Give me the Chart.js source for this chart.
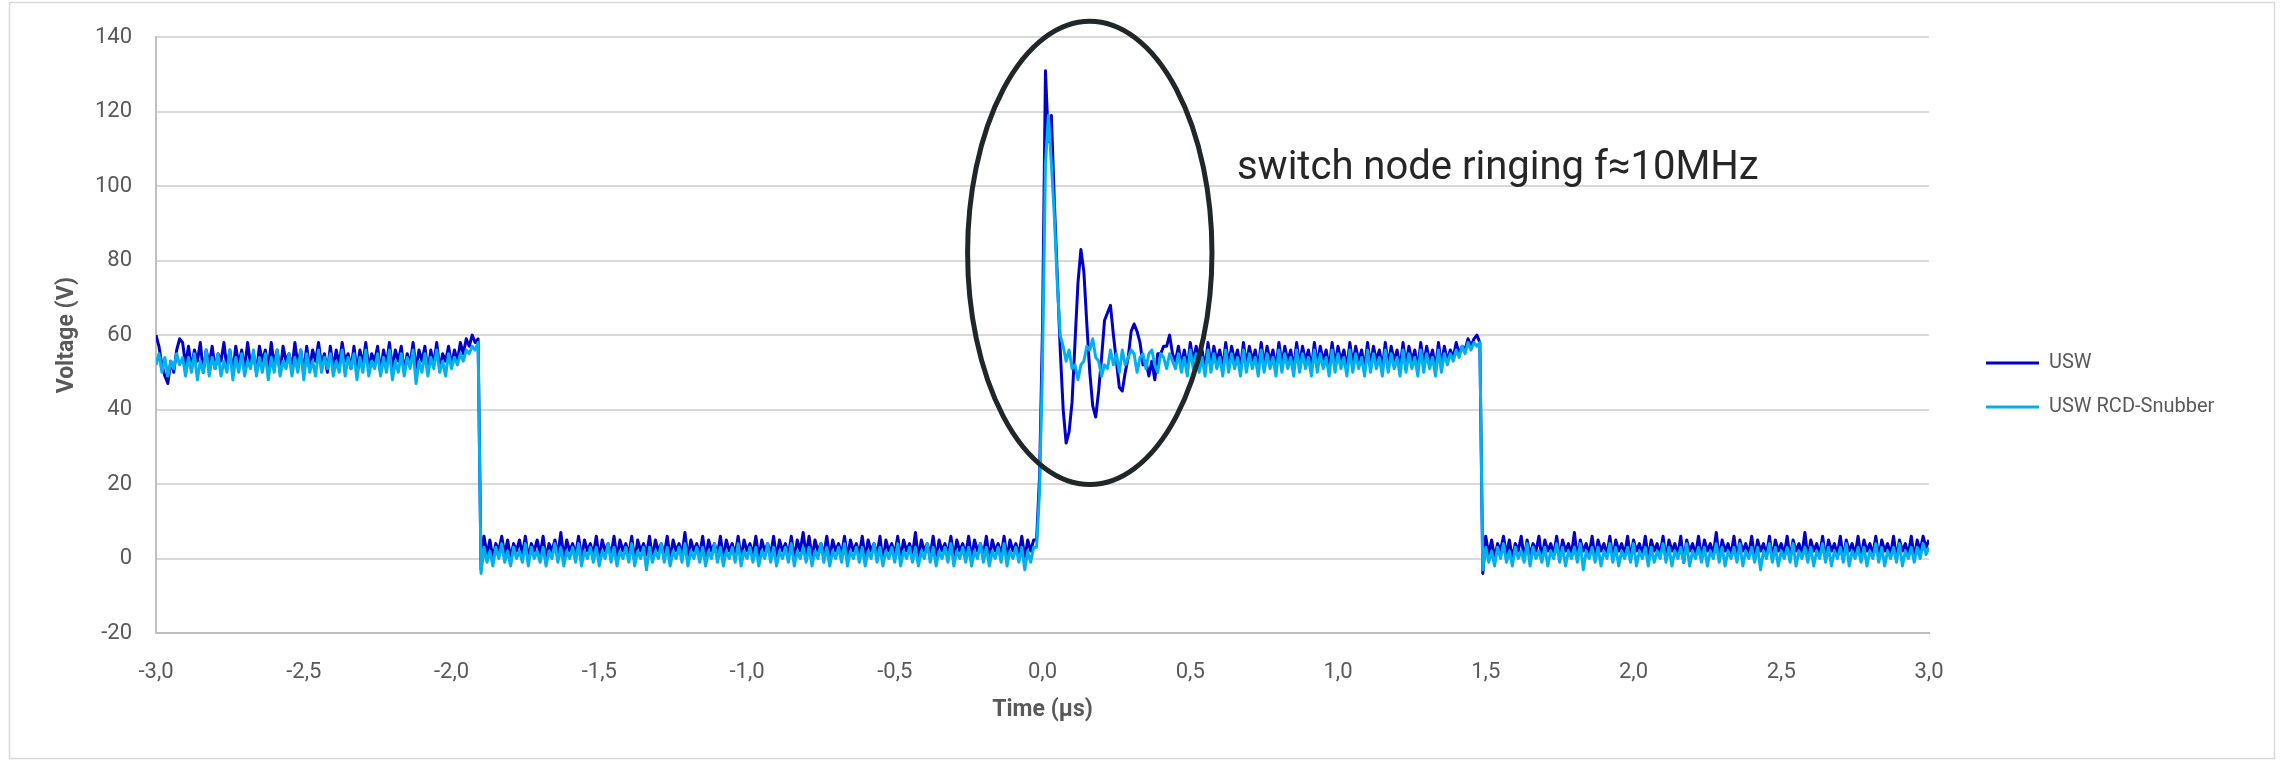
<!DOCTYPE html>
<html>
<head>
<meta charset="utf-8">
<title>Switch node voltage USW</title>
<script src="https://cdn.jsdelivr.net/npm/chart.js@4.4.1/dist/chart.umd.min.js"></script>
<style>
  html, body { margin: 0; padding: 0; background: #fff; }
  #chart { display: block; }
</style>
</head>
<body>
<canvas id="chart" width="2283" height="761"></canvas>
<script>
// scope capture from -3 us to +3 us, one reading every 10 ns
const timeStartUs = -3.0;
const sampleStepUs = 0.01;

const seriesNames = ['USW', 'USW RCD-Snubber'];
const xTickLabels = ['-3,0', '-2,5', '-2,0', '-1,5', '-1,0', '-0,5', '0,0', '0,5', '1,0', '1,5', '2,0', '2,5', '3,0'];

// USW (volts)
const uswHigh1 = [
  60,57,52,49,47,53,50,56,59,58,
  52,57,51,56,53,58,50,56,52,57,51,55,53,58,51,56,50,57,52,56,
  51,58,52,55,50,57,53,56,51,58,52,56,50,57,53,55,51,58,52,56,
  50,57,51,56,53,58,52,55,50,57,51,56,52,58,53,55,51,57,50,56,
  52,58,51,55,53,57,50,56,52,58,51,56,53,57,50,55,52,58,51,56,
  53,57,50,56,52,58,51,55,53,57,
  52,56,53,58,55,59,57,60,58,59
];
const uswLow1 = [
  -3,6,1,5,0,4,2,6,1,5,0,4,2,5,1,6,0,4,2,5,
  1,6,0,4,2,5,1,7,0,5,2,4,1,6,0,5,2,4,1,6,
  0,5,2,4,1,6,0,5,2,4,1,6,-1,5,2,4,1,6,0,5,
  2,4,1,6,0,5,2,4,1,7,0,5,2,4,1,6,0,5,2,4,
  1,6,0,5,2,4,1,6,0,5,2,4,1,6,0,5,2,4,1,6,
  0,5,2,4,1,6,0,5,2,7,1,6,0,5,2,4,1,6,0,5,
  2,4,1,6,0,5,2,4,1,6,0,5,2,4,1,6,-1,5,2,4,
  1,6,0,5,2,4,1,7,0,5,2,4,1,6,0,5,2,4,1,6,
  0,5,2,4,1,6,0,5,2,4,1,6,0,5,2,4,1,6,0,5,
  2,4,1,6,0,5,2,5
];
const uswRinging = [
  5,22,62,131,112,119,96,76,56,40,
  31,34,42,58,74,83,77,63,50,41,
  38,45,54,64,66,68,60,53,46,45,
  50,54,61,63,61,58,52,53,49,53,
  48,55,55,57,57,60,55
];
const uswHigh2 = [
  53,57,52,56,51,58,53,57,52,56,51,58,52,57,53,56,51,58,52,57,
  53,56,51,58,52,57,53,56,51,58,52,57,53,56,51,58,52,57,53,56,
  51,58,52,57,53,56,51,58,52,57,53,56,51,58,52,57,53,56,51,58,
  52,57,53,56,51,58,52,57,53,56,51,58,52,57,53,56,51,58,52,57,
  53,56,51,58,52,57,53,56,51,58,52,57,53,56,54,58,55,57,56,59,
  57,59,60,58
];
const uswLow2 = [
  -4,6,1,5,0,4,2,6,1,5,0,4,2,6,0,5,1,4,2,6,
  0,5,2,4,1,6,0,5,2,4,1,7,0,5,2,4,1,6,0,5,
  2,4,1,6,0,5,2,4,1,6,0,5,2,4,1,6,0,5,2,4,
  1,6,0,5,2,4,1,6,-1,5,2,4,1,6,0,5,2,4,1,7,
  0,5,2,4,1,6,0,5,2,4,1,6,0,5,2,4,1,6,0,5,
  2,4,1,6,0,5,2,4,1,7,0,5,2,4,1,6,0,5,2,4,
  1,6,0,5,2,4,1,6,0,5,2,4,1,6,0,5,2,4,1,6,
  0,5,2,4,1,6,0,5,2,6,3,5
];

// USW with RCD snubber (volts)
const snubHigh1 = [
  52,55,50,54,49,53,51,55,52,54,
  49,54,50,55,48,53,50,56,49,54,51,55,49,53,50,56,48,54,50,55,
  49,53,51,56,49,54,50,55,48,54,50,56,49,53,51,55,49,54,50,56,
  48,55,50,53,49,56,50,54,51,55,49,53,50,56,49,54,51,55,48,54,
  50,56,49,53,51,55,49,54,50,56,48,53,50,55,49,54,51,56,47,53,
  50,55,49,54,51,56,50,53,49,55,
  51,54,52,55,53,56,55,57,56,58
];
const snubLow1 = [
  -4,3,-1,2,-2,3,0,4,-1,2,-2,3,0,2,-1,4,-2,3,0,2,
  -1,3,-2,2,0,4,-1,3,-2,2,0,3,-1,4,-2,2,0,3,-1,3,
  -2,2,0,4,-1,3,-2,2,0,3,-1,4,-2,2,0,3,-3,3,-1,2,
  0,4,-1,3,-2,2,0,3,-1,4,-2,2,0,3,-1,3,-2,2,0,4,
  -1,3,-2,2,0,3,-1,4,-2,2,0,3,-1,3,-2,2,0,4,-1,3,
  -2,2,0,3,-1,4,-2,2,0,3,-1,3,-2,2,0,4,-1,3,-2,2,
  0,3,-1,4,-2,2,0,3,-1,3,-2,2,0,4,-1,3,-2,2,0,3,
  -1,4,-2,2,0,3,-1,3,-2,2,0,4,-1,3,-2,2,0,3,-1,4,
  -2,2,0,3,-1,3,-2,2,0,4,-1,3,-2,2,0,3,-1,4,-2,2,
  0,3,-1,3,-3,2,-1,3
];
const snubRinging = [
  3,18,52,106,119,106,92,74,60,57,
  53,56,51,52,48,52,53,57,56,59,
  54,53,49,52,51,56,52,55,50,56,
  52,54,56,55,50,54,55,51,55,56,
  52,50,55,54,51,55,53
];
const snubHigh2 = [
  51,55,50,54,49,56,51,55,50,54,49,56,50,55,51,54,49,56,50,55,
  51,54,49,56,50,55,51,54,49,56,50,55,51,54,49,56,50,55,51,54,
  49,56,50,55,51,54,49,56,50,55,51,54,49,56,50,55,51,54,49,56,
  50,55,51,54,49,56,50,55,51,54,49,56,50,55,51,54,49,56,50,55,
  51,54,49,56,50,55,51,54,49,56,50,55,52,55,53,56,54,57,55,58,
  56,58,57,58
];
const snubLow2 = [
  -3,3,-1,2,-2,3,0,4,-1,2,-2,3,0,2,-1,4,-2,3,0,2,
  -1,3,-2,2,0,4,-1,3,-2,2,0,3,-1,4,-3,2,0,3,-1,3,
  -2,2,0,4,-1,3,-2,2,0,3,-1,4,-2,2,0,3,-2,3,-1,2,
  0,4,-1,3,-2,2,0,3,-1,4,-2,2,0,3,-1,3,-2,2,0,4,
  -1,3,-2,2,0,3,-1,4,-2,2,0,3,-1,3,-3,2,0,4,-1,3,
  -2,2,0,3,-1,4,-2,2,0,3,-1,3,-2,2,0,4,-1,3,-2,2,
  0,3,-1,4,-2,2,0,3,-1,3,-2,2,0,4,-1,3,-2,2,0,3,
  -1,4,-2,2,0,3,-1,3,0,4,1,3
];

// note on the chart, in data units (us, V)
const ringLabel = 'switch node ringing f\u224810MHz';
const ringLabelAt = { t: 0.658, v: 101.9 };
const ringEllipse = { t: 0.160, v: 82.1, rt: 0.4135, rv: 62.2 };

const uswVolts = [].concat(uswHigh1, uswLow1, uswRinging, uswHigh2, uswLow2);
const snubVolts = [].concat(snubHigh1, snubLow1, snubRinging, snubHigh2, snubLow2);

const toPoints = (volts) => volts.map((v, i) => ({ x: +(timeStartUs + i * sampleStepUs).toFixed(2), y: v }));

const TEXT_GREY = '#595959';
const LEGEND_BOX_WIDTH = 354; // keeps the plot right edge where the original has it
const LEGEND_SHIFT = 33;

const frame = {
	id: 'frame',
	beforeDraw(chart) {
		const ctx = chart.ctx;
		ctx.save();
		ctx.strokeStyle = '#d9d9d9';
		ctx.lineWidth = 1.5;
		ctx.strokeRect(9.5, 2.5, 2265, 756);
		ctx.restore();
	},
};

const legendPlacement = {
	id: 'legendPlacement',
	beforeInit(chart) {
		const fit = chart.legend.fit;
		chart.legend.fit = function () {
			fit.call(this);
			this.width = LEGEND_BOX_WIDTH;
		};
	},
	afterLayout(chart) {
		chart.legend.left += LEGEND_SHIFT;
		chart.legend.right += LEGEND_SHIFT;
	},
};

const ringingNote = {
	id: 'ringingNote',
	afterDatasetsDraw(chart) {
		const { ctx } = chart;
		const x = chart.scales.x;
		const y = chart.scales.y;
		const cx = x.getPixelForValue(ringEllipse.t);
		const cy = y.getPixelForValue(ringEllipse.v);
		const rx = x.getPixelForValue(ringEllipse.t + ringEllipse.rt) - cx;
		const ry = cy - y.getPixelForValue(ringEllipse.v + ringEllipse.rv);
		ctx.save();
		ctx.lineWidth = 5;
		ctx.strokeStyle = '#1f272b';
		ctx.beginPath();
		ctx.ellipse(cx, cy, rx, ry, 0, 0, Math.PI * 2);
		ctx.stroke();
		ctx.fillStyle = '#262626';
		ctx.font = '40px Roboto';
		ctx.textBaseline = 'alphabetic';
		ctx.fillText(ringLabel, x.getPixelForValue(ringLabelAt.t), y.getPixelForValue(ringLabelAt.v));
		ctx.restore();
	},
};

Chart.defaults.font.family = 'Roboto';

new Chart(document.getElementById('chart'), {
	type: 'line',
	data: {
		datasets: [
			{
				label: seriesNames[0],
				data: toPoints(uswVolts),
				borderColor: '#0000C8',
				backgroundColor: '#0000C8',
				borderWidth: 3,
				borderJoinStyle: 'round',
				pointRadius: 0,
				order: 1,
			},
			{
				label: seriesNames[1],
				data: toPoints(snubVolts),
				borderColor: '#00B0F0',
				backgroundColor: '#00B0F0',
				borderWidth: 3,
				borderJoinStyle: 'round',
				pointRadius: 0,
				order: 0,
			},
		],
	},
	options: {
		responsive: false,
		devicePixelRatio: 1,
		animation: false,
		events: [],
		parsing: false,
		normalized: true,
		layout: { padding: { top: 32, bottom: 23, left: 0, right: 0 } },
		scales: {
			x: {
				type: 'linear',
				min: -3,
				max: 3,
				afterFit: (scale) => { scale.height = 105; },
				grid: { display: false, drawTicks: false },
				border: { display: true, color: '#bfbfbf', width: 2 },
				ticks: {
					stepSize: 0.5,
					autoSkip: false,
					maxRotation: 0,
					padding: 26,
					color: TEXT_GREY,
					font: { size: 22 },
					callback: (value, index) => xTickLabels[index],
				},
				title: {
					display: true,
					text: 'Time (\u00b5s)',
					color: TEXT_GREY,
					font: { size: 23, weight: 'bold' },
					padding: { top: 14, bottom: 14 },
				},
			},
			y: {
				min: -20,
				max: 140,
				afterFit: (scale) => { scale.width = 156; },
				grid: { color: '#d9d9d9', lineWidth: 2, drawTicks: false },
				border: { display: true, color: '#bfbfbf', width: 2 },
				ticks: {
					stepSize: 20,
					padding: 24,
					color: TEXT_GREY,
					font: { size: 22 },
				},
				title: {
					display: true,
					text: 'Voltage (V)',
					color: TEXT_GREY,
					font: { size: 23, weight: 'bold' },
					padding: { top: 53, bottom: 53 },
				},
			},
		},
		plugins: {
			tooltip: { enabled: false },
			legend: {
				position: 'right',
				labels: {
					usePointStyle: true,
					pointStyle: 'line',
					pointStyleWidth: 53,
					padding: 24,
					color: TEXT_GREY,
					font: { size: 20 },
					sort: (a, b) => a.datasetIndex - b.datasetIndex,
				},
			},
		},
	},
	plugins: [frame, legendPlacement, ringingNote],
});
</script>
</body>
</html>
